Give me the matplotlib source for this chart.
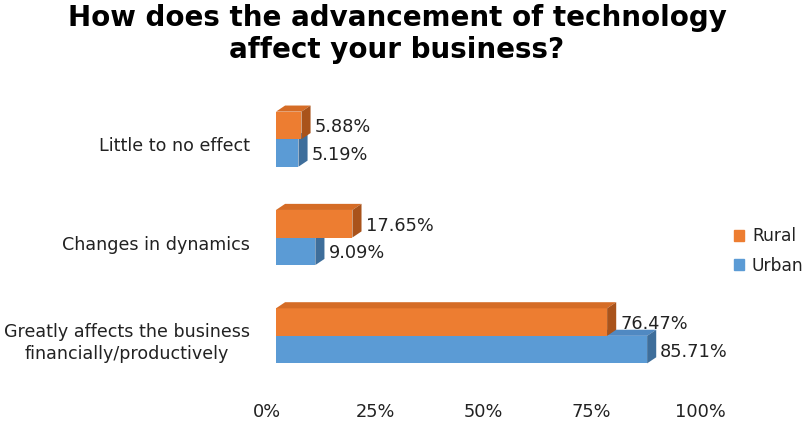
import numpy as np
import matplotlib.pyplot as plt
from matplotlib.patches import Polygon, Patch
from matplotlib.transforms import ScaledTranslation

# ── data ──────────────────────────────────────────────
categories = ["Greatly affects the business\nfinancially/productively",
              "Changes in dynamics",
              "Little to no effect"]
rural = [76.47, 17.65, 5.88]
urban = [85.71, 9.09, 5.19]
xticks = [0, 25, 50, 75, 100]

# ── styling ───────────────────────────────────────────
ORANGE = {"front": "#ED7D31", "top": "#D56C26", "side": "#A9531B"}
BLUE = {"front": "#5B9BD5", "top": "#5089C2", "side": "#3E6E9B"}
BAR_H = 0.28
DX, DY = 2.1, 0.062      # 3D depth in data units
FS = 12.8

fig = plt.figure(figsize=(8.03, 4.24), dpi=100)
ax = fig.add_axes([276 / 803, 39 / 424, 433 / 803, 295 / 424])
ax.set_xlim(0, 100)
ax.set_ylim(-0.5, 2.5)
ax.axis("off")


def bar3d(y0, val, col):
    # front face, then top and right side faces
    ax.barh(y0 + BAR_H / 2, val, height=BAR_H, color=col["front"],
            edgecolor="none", zorder=2)
    y1 = y0 + BAR_H
    top = [(0, y1), (val, y1), (val + DX, y1 + DY), (DX, y1 + DY)]
    side = [(val, y0), (val + DX, y0 + DY), (val + DX, y1 + DY), (val, y1)]
    ax.add_patch(Polygon(top, closed=True, color=col["top"], lw=0,
                         zorder=2, clip_on=False))
    ax.add_patch(Polygon(side, closed=True, color=col["side"], lw=0,
                         zorder=2, clip_on=False))


lbl_off = ScaledTranslation(4 / 100, -2 / 100, fig.dpi_scale_trans)
for i, (r, u) in enumerate(zip(rural, urban)):
    # urban below, rural stacked on top of it
    bar3d(i - BAR_H, u, BLUE)
    bar3d(i, r, ORANGE)
    ax.text(u + DX, i - BAR_H / 2, f"{u:.2f}%", va="center", ha="left",
            fontsize=FS, color="#222222", transform=ax.transData + lbl_off)
    ax.text(r + DX, i + BAR_H / 2, f"{r:.2f}%", va="center", ha="left",
            fontsize=FS, color="#222222", transform=ax.transData + lbl_off)

# category labels
cat_off = ScaledTranslation(-26 / 100, -7 / 100, fig.dpi_scale_trans)
for i, c in enumerate(categories):
    ax.text(0, i, c, ha="right", va="center", fontsize=FS - 0.2,
            color="#222222", multialignment="center", linespacing=1.3,
            transform=ax.transData + cat_off)

# x tick labels
tick_off = ScaledTranslation(-9 / 100, 0, fig.dpi_scale_trans)
for t in xticks:
    ax.text(t, -0.092, f"{t}%", ha="center", va="center", fontsize=FS,
            color="#222222",
            transform=ax.get_xaxis_transform() + tick_off)

fig.text(397 / 803, 1 - 34 / 424,
         "How does the advancement of technology\naffect your business?",
         ha="center", va="center", fontsize=20, fontweight="bold",
         linespacing=1.15)

handles = [Patch(color=ORANGE["front"], label="Rural"),
           Patch(color=BLUE["front"], label="Urban")]
fig.legend(handles=handles, loc="center left",
           bbox_to_anchor=(734 / 803, 1 - 251 / 424), frameon=False,
           borderaxespad=0, borderpad=0,
           fontsize=FS - 0.5, handlelength=0.6, handleheight=0.6,
           handletextpad=0.45, labelspacing=0.65, labelcolor="#222222")

fig.savefig("out.png", dpi=100)
